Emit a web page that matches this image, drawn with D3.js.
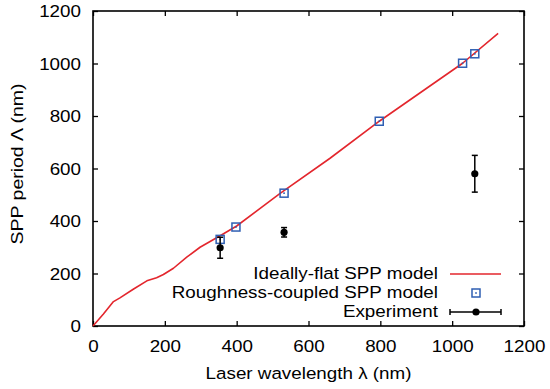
<!DOCTYPE html>
<html>
<head>
<meta charset="utf-8">
<script src="https://cdn.jsdelivr.net/npm/d3@7"></script>
<style>
  body { margin: 0; background: #fff; }
  text { font-family: "Liberation Sans", Arial, sans-serif; fill: #000; }
</style>
</head>
<body>
<div id="chart"></div>
<script>
//************************************************************************
// data
//************************************************************************
var flatWavelength = [0, 29, 57, 75, 112, 150, 177, 196, 224, 261, 298, 354, 400, 521, 660, 799, 1029, 1128];
var flatPeriod     = [0, 46, 93, 107, 140, 172, 184, 196, 220, 262, 300, 344, 381, 505, 639, 782, 1001, 1115];

var roughWavelength = [354, 398, 532, 797, 1029, 1063];
var roughPeriod     = [330, 377, 506, 780, 1001, 1037];

var expWavelength = [354, 532, 1063];
var expPeriod     = [298, 357, 580];
var expError      = [40, 18, 70];

var tickValues = [0, 200, 400, 600, 800, 1000, 1200];
var legendLabels = ["Ideally-flat SPP model", "Roughness-coupled SPP model", "Experiment"];

//************************************************************************
// display settings
//************************************************************************
var svgWidth = 550;
var svgHeight = 389;
var margin = { top: 11, right: 26, bottom: 63, left: 93 };
var width = svgWidth - margin.left - margin.right;
var height = svgHeight - margin.top - margin.bottom;
var stretch = 1.14;   // the source type is wider than Liberation Sans
var fontSize = 16.5;

var red = "#e3262d";
var blue = "#2f5fb3";

var svg = d3.select("#chart")
  .append("svg")
  .attr("width", svgWidth)
  .attr("height", svgHeight);

var chart = svg.append("g")
  .attr("transform", `translate(${margin.left}, ${margin.top})`);

//************************************************************************
// scales and axes
//************************************************************************
var x = d3.scaleLinear().domain([0, 1200]).range([0, width]);
var y = d3.scaleLinear().domain([0, 1200]).range([height, 0]);
var fmt = d3.format("d");

var bottomAxis = d3.axisBottom(x).tickValues(tickValues).tickFormat(fmt).tickSizeInner(-5).tickSizeOuter(0).tickPadding(14);
var leftAxis = d3.axisLeft(y).tickValues(tickValues).tickFormat(fmt).tickSizeInner(-5).tickSizeOuter(0);
var topAxis = d3.axisTop(x).tickValues(tickValues).tickSizeInner(-5).tickSizeOuter(0).tickFormat("");
var rightAxis = d3.axisRight(y).tickValues(tickValues).tickSizeInner(-5).tickSizeOuter(0).tickFormat("");

var xAxis = chart.append("g")
  .attr("transform", `translate(0, ${height})`)
  .call(bottomAxis);
var yAxis = chart.append("g").call(leftAxis);
chart.append("g").call(topAxis);
chart.append("g").attr("transform", `translate(${width}, 0)`).call(rightAxis);

chart.selectAll(".domain").remove();
chart.selectAll(".tick line").attr("stroke", "#000").attr("stroke-width", 1.3);

xAxis.selectAll("text")
  .attr("font-size", fontSize)
  .attr("transform", `scale(${stretch}, 1)`);
yAxis.selectAll("text")
  .attr("font-size", fontSize)
  .attr("x", -12 / stretch)
  .attr("dy", "0.36em")
  .attr("transform", `scale(${stretch}, 1)`);

chart.append("rect")
  .attr("width", width)
  .attr("height", height)
  .attr("fill", "none")
  .attr("stroke", "#000")
  .attr("stroke-width", 1.6);

//************************************************************************
// axis labels
//************************************************************************
svg.append("text")
  .attr("transform", `translate(${margin.left + width / 2}, 379) scale(${stretch}, 1)`)
  .attr("text-anchor", "middle")
  .attr("font-size", fontSize)
  .text("Laser wavelength λ (nm)");

svg.append("text")
  .attr("transform", `translate(23, 164) rotate(-90) scale(1.18, 1)`)
  .attr("text-anchor", "middle")
  .attr("font-size", fontSize)
  .text("SPP period Λ (nm)");

//************************************************************************
// ideally-flat model line
//************************************************************************
var flatData = flatWavelength.map((w, i) => ({ w: w, p: flatPeriod[i] }));
var line = d3.line().x(d => x(d.w)).y(d => y(d.p));

chart.append("path")
  .datum(flatData)
  .attr("d", line)
  .attr("fill", "none")
  .attr("stroke", red)
  .attr("stroke-width", 1.6)
  .attr("stroke-linejoin", "round");

//************************************************************************
// roughness-coupled model squares
//************************************************************************
function drawSquare(g, cx, cy) {
  g.append("rect")
    .attr("x", cx - 4)
    .attr("y", cy - 4)
    .attr("width", 8)
    .attr("height", 8)
    .attr("fill", "none")
    .attr("stroke", blue)
    .attr("stroke-width", 1.5);
  g.append("rect")
    .attr("x", cx - 0.8)
    .attr("y", cy - 0.8)
    .attr("width", 1.6)
    .attr("height", 1.6)
    .attr("fill", blue);
}

var roughGroup = chart.append("g");
roughWavelength.forEach((w, i) => drawSquare(roughGroup, x(w), y(roughPeriod[i])));

//************************************************************************
// experiment points with error bars
//************************************************************************
var expGroup = chart.append("g");
expWavelength.forEach((w, i) => {
  var cx = x(w);
  var top = y(expPeriod[i] + expError[i]);
  var bot = y(expPeriod[i] - expError[i]);
  expGroup.append("line")
    .attr("x1", cx).attr("x2", cx).attr("y1", top).attr("y2", bot)
    .attr("stroke", "#000").attr("stroke-width", 1.5);
  [top, bot].forEach(yy => {
    expGroup.append("line")
      .attr("x1", cx - 3).attr("x2", cx + 3).attr("y1", yy).attr("y2", yy)
      .attr("stroke", "#000").attr("stroke-width", 1.5);
  });
  expGroup.append("circle")
    .attr("cx", cx).attr("cy", y(expPeriod[i])).attr("r", 3.6)
    .attr("fill", "#000");
});

//************************************************************************
// legend
//************************************************************************
var legend = svg.append("g");
var rowY = [274, 293, 312];
legendLabels.forEach((label, i) => {
  legend.append("text")
    .attr("transform", `translate(438, ${rowY[i] + 4.5}) scale(${stretch}, 1)`)
    .attr("text-anchor", "end")
    .attr("font-size", fontSize)
    .text(label);
});

legend.append("line")
  .attr("x1", 450).attr("x2", 501).attr("y1", rowY[0]).attr("y2", rowY[0])
  .attr("stroke", red).attr("stroke-width", 1.6);

drawSquare(legend, 476, rowY[1]);

legend.append("line")
  .attr("x1", 450).attr("x2", 501).attr("y1", rowY[2]).attr("y2", rowY[2])
  .attr("stroke", "#000").attr("stroke-width", 1.5);
[450, 501].forEach(xx => {
  legend.append("line")
    .attr("x1", xx).attr("x2", xx).attr("y1", rowY[2] - 3).attr("y2", rowY[2] + 3)
    .attr("stroke", "#000").attr("stroke-width", 1.5);
});
legend.append("circle")
  .attr("cx", 476).attr("cy", rowY[2]).attr("r", 3.6)
  .attr("fill", "#000");
</script>
</body>
</html>
